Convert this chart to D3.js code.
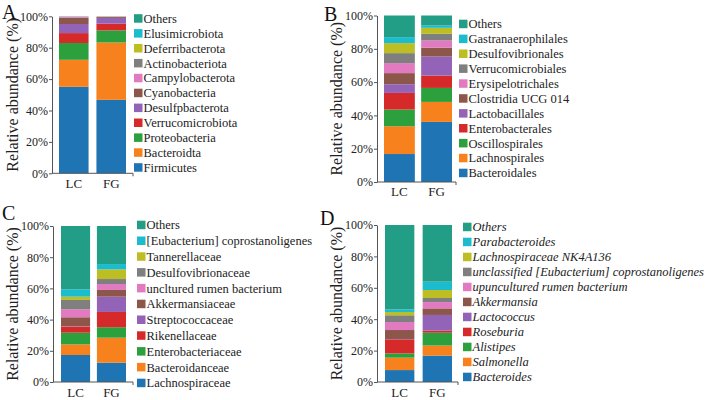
<!DOCTYPE html>
<html><head><meta charset="utf-8">
<script src="https://cdn.jsdelivr.net/npm/d3@7"></script>
<style>
html,body{margin:0;padding:0;background:#fff;}
svg{display:block;font-family:"Liberation Serif","Times New Roman",serif;}
</style></head>
<body><svg id="chart" width="709" height="400"></svg>
<script>
// ---------- DATA (stack order: bottom -> top) ----------
const groups = ["LC", "FG"];
const yTicks = [0, 20, 40, 60, 80, 100];

const phylumNames = ["Firmicutes","Bacteroidta","Proteobacteria","Verrucomicrobiota","Desulfpbacterota","Cyanobacteria","Campylobacterota","Actinobacteriota","Deferribacterota","Elusimicrobiota","Others"];
const phylumLC = [55.1, 17.2, 10.7, 6.3, 5.8, 4.0, 0.6, 0.1, 0.05, 0.05, 0.1];
const phylumFG = [46.8, 36.5, 7.7, 4.3, 3.6, 0.6, 0.2, 0.1, 0.1, 0.05, 0.05];

const orderNames = ["Bacteroidales","Lachnospirales","Oscillospirales","Enterobacterales","Lactobacillales","Clostridia UCG 014","Erysipelotrichales","Verrucomicrobiales","Desulfovibrionales","Gastranaerophilales","Others"];
const orderLC = [16.8, 16.7, 10.0, 10.0, 5.2, 6.7, 6.0, 6.0, 6.0, 3.6, 13.0];
const orderFG = [36.1, 12.0, 8.4, 7.4, 11.5, 5.3, 4.3, 4.0, 3.6, 1.4, 6.0];

const familyNames = ["Lachnospiraceae","Bacteroidanceae","Enterobacteriaceae","Rikenellaceae","Streptococcaceae","Akkermansiaceae","uncltured rumen bacterium","Desulfovibrionaceae","Tannerellaceae","[Eubacterium] coprostanoligenes","Others"];
const familyLC = [17.3, 6.8, 7.5, 3.9, 0.2, 5.8, 5.1, 6.0, 2.1, 4.7, 40.6];
const familyFG = [12.4, 16.0, 6.7, 9.8, 9.8, 4.3, 3.8, 3.2, 6.2, 3.4, 24.4];

const genusNames = ["Bacteroides","Salmonella","Alistipes","Roseburia","Lactococcus","Akkermansia","upuncultured rumen bacterium","unclassified [Eubacterium] coprostanoligenes","Lachnospiraceae NK4A136","Parabacteroides","Others"];
const genusLC = [7.6, 7.9, 2.7, 9.0, 0.2, 5.7, 5.1, 4.3, 2.1, 1.7, 53.7];
const genusFG = [16.8, 6.4, 8.2, 1.3, 10.0, 4.2, 4.0, 2.6, 5.1, 5.3, 36.1];

// ---------- STYLE ----------
const palette = ["#1f74b4","#f7811d","#2ca03c","#d62a2a","#9363b8","#8c564b","#e17ac0","#7f7f7f","#bdbd24","#1cbccf","#229d86"];

const svg = d3.select("#chart");

function drawPanel(p) {
  const g = svg.append("g");
  const y = d3.scaleLinear().domain([0, 100]).range([p.y0, p.y100]);
  const x = d3.scaleBand().domain(groups).range([p.barL, p.barR]).paddingInner(p.padIn).paddingOuter(0);

  const rows = groups.map((grp, gi) => {
    const o = {group: grp};
    p.names.forEach((n, i) => { o[n] = p.values[gi][i]; });
    return o;
  });
  const stack = d3.stack().keys(p.names)(rows);
  const color = d3.scaleOrdinal().domain(p.names).range(palette);

  g.selectAll("g.layer").data(stack).join("g")
    .attr("fill", d => color(d.key))
    .selectAll("rect").data(d => d).join("rect")
    .attr("x", d => x(d.data.group))
    .attr("width", x.bandwidth())
    .attr("y", d => y(d[1]))
    .attr("height", d => Math.max(0, y(d[0]) - y(d[1])));

  // y axis
  const ya = g.append("g").attr("transform", `translate(${p.axisX},0)`)
    .call(d3.axisLeft(y).tickValues(yTicks).tickFormat(d => d + "%").tickSize(3).tickSizeOuter(0).tickPadding(1));
  ya.selectAll("text").attr("font-size", 12).attr("fill", "#222").attr("font-family", "Liberation Serif");
  ya.selectAll("line,path").attr("stroke", "#555");

  // x axis
  const xa = g.append("g").attr("transform", `translate(0,${p.y0})`)
    .call(d3.axisBottom(x).tickSize(0).tickPadding(0));
  xa.select("path").remove();
  xa.selectAll("text").attr("font-size", 13).attr("fill", "#222").attr("font-family", "Liberation Serif")
    .attr("dy", null).attr("y", p.xLabelDy);
  g.append("path").attr("d", `M${p.axisX},${p.y0}H${p.axisEnd}V${p.y0 + 3}`)
    .attr("fill", "none").attr("stroke", "#555");

  // y title
  g.append("text")
    .attr("transform", `translate(${p.titleX},${(p.y0 + p.y100) / 2}) rotate(-90)`)
    .attr("text-anchor", "middle").attr("font-size", 16).attr("fill", "#222")
    .text("Relative abundance (%)");

  // panel letter
  g.append("text").attr("x", p.letterX).attr("y", p.letterY)
    .attr("font-size", 20).attr("fill", "#111").text(p.letter);

  // legend (top = last stack layer)
  const legNames = p.names.slice().reverse();
  const leg = g.selectAll("g.leg").data(legNames).join("g")
    .attr("transform", (d, i) => `translate(${p.legX},${p.legY + i * p.legStep})`);
  leg.append("rect").attr("x", 0).attr("y", -4.3).attr("width", 8.5).attr("height", 8.5)
    .attr("fill", d => color(d));
  leg.append("text").attr("x", 9.5).attr("y", 4.3).attr("font-size", 12.5).attr("fill", "#222")
    .attr("font-style", p.italic ? "italic" : null)
    .text(d => d);
}

drawPanel({letter: "A", names: phylumNames, values: [phylumLC, phylumFG],
  y0: 173.3, y100: 16.3, axisX: 52, axisEnd: 133, barL: 59, barR: 126, padIn: 0.21,
  xLabelDy: 15, titleX: 18, letterX: 2, letterY: 19,
  legX: 134, legY: 18.5, legStep: 14.9});

drawPanel({letter: "B", names: orderNames, values: [orderLC, orderFG],
  y0: 182, y100: 15.5, axisX: 377, axisEnd: 456, barL: 384, barR: 452, padIn: 0.17,
  xLabelDy: 14, titleX: 342, letterX: 324, letterY: 21,
  legX: 459, legY: 24, legStep: 14.9});

drawPanel({letter: "C", names: familyNames, values: [familyLC, familyFG],
  y0: 382, y100: 226, axisX: 53, axisEnd: 133, barL: 61, barR: 126, padIn: 0.19,
  xLabelDy: 14.5, titleX: 18, letterX: 2, letterY: 220,
  legX: 137, legY: 225, legStep: 15.8});

drawPanel({letter: "D", names: genusNames, values: [genusLC, genusFG], italic: true,
  y0: 382, y100: 225, axisX: 377, axisEnd: 458, barL: 385, barR: 452, padIn: 0.22,
  xLabelDy: 15, titleX: 342, letterX: 320, letterY: 225,
  legX: 463, legY: 227, legStep: 15});
</script>
</body></html>
